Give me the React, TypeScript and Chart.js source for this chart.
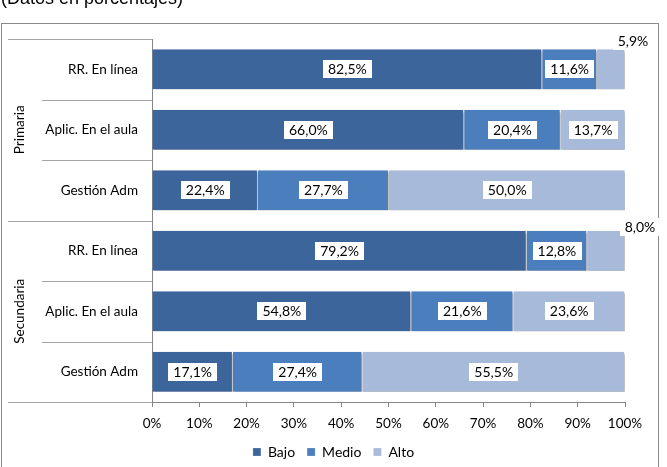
import React, { useEffect, useRef } from "react";
import { Chart, registerables } from "chart.js";

Chart.register(...registerables);

const categories = ["RR. En línea", "Aplic. En el aula", "Gestión Adm", "RR. En línea", "Aplic. En el aula", "Gestión Adm"];
const groups = ["Primaria", "Secundaria"];
const seriesNames = ["Bajo", "Medio", "Alto"];
const bajo = [82.5, 66.0, 22.4, 79.2, 54.8, 17.1];
const medio = [11.6, 20.4, 27.7, 12.8, 21.6, 27.4];
const alto = [5.9, 13.7, 50.0, 8.0, 23.6, 55.5];
const titleText = "(Datos en porcentajes)";

const FONT = "Lato";
const COLORS = ["#3C659B", "#4A7EBD", "#A8BAD9"];
const LINE = "#a6a6a6";

const fmt = (v: number) => v.toFixed(1).replace(".", ",") + "%";

const decorPlugin = {
  id: "decor",
  beforeDraw(chart: any) {
    const ctx = chart.ctx;
    ctx.save();
    ctx.fillStyle = "#fff";
    ctx.fillRect(0, 0, chart.width, chart.height);
    ctx.fillStyle = "#000";
    ctx.font = "18px Arial";
    ctx.textBaseline = "alphabetic";
    ctx.textAlign = "left";
    ctx.fillText(titleText, 1, 4);
    ctx.strokeStyle = "#8a8a8a";
    ctx.lineWidth = 1;
    ctx.strokeRect(1.5, 23.5, 657, chart.height + 10);
    ctx.restore();
  },
  beforeDatasetsDraw(chart: any) {
    const ctx = chart.ctx;
    ctx.save();
    ctx.shadowColor = "rgba(0,0,0,0.35)";
    ctx.shadowOffsetX = 1;
    ctx.shadowOffsetY = 2;
    ctx.shadowBlur = 2;
  },
  afterDatasetsDraw(chart: any) {
    chart.ctx.restore();
  },
  afterDraw(chart: any) {
    const ctx = chart.ctx;
    const area = chart.chartArea;
    const y = chart.scales.y;
    const n = categories.length;
    const step = (area.bottom - area.top) / n;
    ctx.save();
    ctx.strokeStyle = LINE;
    ctx.lineWidth = 1;
    for (let k = 0; k <= n; k++) {
      const yy = Math.round(area.top + step * k) + 0.5;
      const x0 = k % 3 === 0 ? 8 : 42;
      ctx.beginPath();
      ctx.moveTo(x0, yy);
      ctx.lineTo(area.left, yy);
      ctx.stroke();
    }
    ctx.fillStyle = "#000";
    ctx.font = `13.5px ${FONT}`;
    ctx.textAlign = "right";
    ctx.textBaseline = "middle";
    categories.forEach((c, i) => {
      ctx.fillText(c, 138, y.getPixelForValue(i));
    });
    groups.forEach((g, gi) => {
      const cy = area.top + step * (gi * 3 + 1.5);
      ctx.save();
      ctx.translate(20, cy);
      ctx.rotate(-Math.PI / 2);
      ctx.textAlign = "center";
      ctx.fillText(g, 0, 0);
      ctx.restore();
    });
    // data labels
    const smallOffsets: Record<number, [number, number]> = { 0: [8, -8], 3: [15, -4] };
    chart.data.datasets.forEach((ds: any, di: number) => {
      const meta = chart.getDatasetMeta(di);
      meta.data.forEach((bar: any, i: number) => {
        const v = ds.data[i];
        const txt = fmt(v);
        ctx.font = `14px ${FONT}`;
        const w = ctx.measureText(txt).width + 10;
        const h = 18;
        let cx = (bar.x + bar.base) / 2;
        let cy = bar.y;
        if (v < 10 && smallOffsets[i]) {
          cx = bar.x + smallOffsets[i][0];
          cy = bar.y - bar.height / 2 + smallOffsets[i][1];
        }
        ctx.fillStyle = "#fff";
        ctx.fillRect(Math.round(cx - w / 2), Math.round(cy - h / 2), Math.round(w), h);
        ctx.fillStyle = "#000";
        ctx.textAlign = "center";
        ctx.textBaseline = "middle";
        ctx.fillText(txt, cx, cy + 0.5);
      });
    });
    ctx.restore();
  },
};

export default function App() {
  const ref = useRef<HTMLCanvasElement>(null);
  useEffect(() => {
    if (!ref.current) return;
    const chart = new Chart(ref.current, {
      type: "bar",
      data: {
        labels: categories,
        datasets: [bajo, medio, alto].map((d, i) => ({
          label: seriesNames[i],
          data: d,
          backgroundColor: COLORS[i],
          borderColor: "rgba(255,255,255,0.85)",
          borderWidth: { left: 0, right: 1, top: 0, bottom: 0 },
          borderSkipped: false,
          barPercentage: 0.665,
          categoryPercentage: 1,
        })),
      },
      options: {
        indexAxis: "y",
        animation: false,
        responsive: true,
        maintainAspectRatio: false,
        layout: { padding: { top: 39, right: 42, left: 42, bottom: -2 } },
        scales: {
          x: {
            stacked: true,
            min: 0,
            max: 100,
            ticks: {
              stepSize: 10,
              callback: (v: any) => v + "%",
              font: { family: FONT, size: 13.5 },
              color: "#000",
              padding: 9,
              maxRotation: 0,
            },
            grid: { drawOnChartArea: false, drawTicks: true, tickLength: 5, color: "#868686" },
            border: { display: true, color: "#868686" },
            afterFit: (s: any) => { s.height = 31; },
          },
          y: {
            stacked: true,
            ticks: { display: false },
            grid: { display: false },
            border: { display: true, color: "#868686" },
            afterFit: (s: any) => { s.width = 110; },
          },
        },
        plugins: {
          legend: {
            position: "bottom",
            labels: {
              boxWidth: 8,
              boxHeight: 8,
              padding: 12,
              color: "#000",
              font: { family: FONT, size: 14 },
            },
          },
          tooltip: { enabled: false },
        },
      },
      plugins: [decorPlugin],
    } as any);
    return () => chart.destroy();
  }, []);
  return (
    <div style={{ position: "fixed", left: 0, top: 0, width: 667, height: 467 }}>
      <canvas ref={ref} />
    </div>
  );
}
